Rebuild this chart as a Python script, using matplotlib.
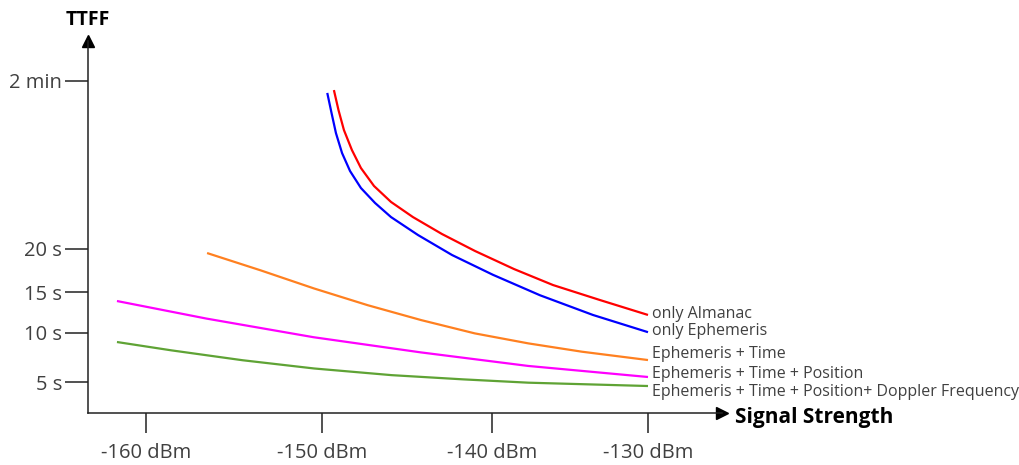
import numpy as np
import matplotlib
matplotlib.use("Agg")
import matplotlib.pyplot as plt

plt.rcParams["font.family"] = ["Open Sans", "DejaVu Sans"]

# signal strength (dBm) / time to first fix (s)
almanac_x = [-149.3, -149.03, -148.71, -148.24, -147.71, -146.94, -145.94, -144.65,
             -142.94, -141.0, -138.59, -136.09, -133.08, -130.0]
almanac_y = [114.6, 102.7, 90.8, 78.9, 68.2, 57.5, 48.0, 39.0,
             28.9, 19.77, 17.67, 15.81, 14.02, 12.2]

ephem_x = [-149.69, -149.44, -149.18, -148.82, -148.35, -147.71, -146.88, -145.94,
           -144.35, -142.35, -139.94, -136.92, -133.53, -130.0]
ephem_y = [112.9, 101.0, 89.0, 77.1, 66.4, 56.3, 47.4, 39.0,
           28.3, 19.3, 17.0, 14.6, 12.2, 10.1]

time_x = [-156.53, -153.49, -150.45, -147.31, -144.16, -141.01, -137.67, -134.23, -130.0]
time_y = [19.53, 17.52, 15.41, 13.39, 11.57, 9.96, 8.94, 8.09, 7.24]

pos_x = [-161.65, -156.57, -150.48, -144.18, -137.69, -130.0]
pos_y = [13.9, 11.76, 9.57, 8.02, 6.64, 5.51]

doppler_x = [-161.65, -158.56, -154.51, -150.45, -145.91, -141.71, -137.67, -130.0]
doppler_y = [9.08, 8.23, 7.22, 6.38, 5.70, 5.27, 4.93, 4.59]

x_ticks = [-160, -150, -140, -130]
x_ticklabels = ["-160 dBm", "-150 dBm", "-140 dBm", "-130 dBm"]
y_ticks = [5, 10, 15, 20, 120]
y_ticklabels = ["5 s", "10 s", "15 s", "20 s", "2 min"]

series = [
    (almanac_x, almanac_y, "#ff0000", "only Almanac", 1),
    (ephem_x, ephem_y, "#0000ff", "only Ephemeris", 1),
    (time_x, time_y, "#ff8020", "Ephemeris + Time", 6),
    (pos_x, pos_y, "#ff00ff", "Ephemeris + Time + Position", 3),
    (doppler_x, doppler_y, "#5fa335", "Ephemeris + Time + Position+ Doppler Frequency", -6),
]

# the drawing is schematic: axes are not linear, so warp them piecewise
X_KNOTS = np.array([-170, -160, -150, -140, -130, -120])
X_PIX = np.array([-30, 146, 322, 492, 648, 804])
Y_KNOTS = np.array([0, 5, 10, 15, 20, 120, 200])
Y_PIX = -np.array([431, 382, 333, 292, 249, 81, -53])


def fwd_x(v):
    return np.interp(v, X_KNOTS, X_PIX)


def inv_x(p):
    return np.interp(p, X_PIX, X_KNOTS)


def fwd_y(v):
    return np.interp(v, Y_KNOTS, Y_PIX)


def inv_y(p):
    return np.interp(p, Y_PIX, Y_KNOTS)


W, H = 1019, 465
fig = plt.figure(figsize=(W / 100, H / 100), dpi=100)
left, right, top, bottom = 88, 722, 41, 413
ax = fig.add_axes([left / W, (H - bottom) / H, (right - left) / W, (bottom - top) / H])
ax.set_xscale("function", functions=(fwd_x, inv_x))
ax.set_yscale("function", functions=(fwd_y, inv_y))
ax.set_xlim(inv_x(left), inv_x(right))
ax.set_ylim(inv_y(-bottom), inv_y(-top))

for xs, ys, color, label, dy in series:
    ax.plot(xs, ys, color=color, lw=1.6, solid_capstyle="butt")
    ax.annotate(label, (xs[-1], ys[-1]), xytext=(4, dy), textcoords="offset pixels",
                ha="left", va="center", fontsize=11.5, color="#404040")

for s in ["top", "right"]:
    ax.spines[s].set_visible(False)
for s in ["left", "bottom"]:
    ax.spines[s].set_color("#222222")
    ax.spines[s].set_linewidth(1.1)

ax.plot(1, 0, marker=">", ms=9, color="black", transform=ax.transAxes, clip_on=False)
ax.plot(0, 1, marker="^", ms=9, color="black", transform=ax.transAxes, clip_on=False)

ax.set_xticks(x_ticks)
ax.set_xticklabels(x_ticklabels)
ax.set_yticks(y_ticks)
ax.set_yticklabels(y_ticklabels)
ax.minorticks_off()
ax.tick_params(axis="x", length=14.5, width=1.1, color="#222222", pad=7,
               labelsize=14.5, labelcolor="#404040")
ax.tick_params(axis="y", length=16.5, width=1.1, color="#222222", pad=2,
               labelsize=14.5, labelcolor="#404040")

fig.text(88 / W, 1 - 20 / H, "TTFF", ha="center", va="center",
         fontsize=14, fontweight="bold", color="black")
fig.text(735 / W, 1 - 417 / H, "Signal Strength", ha="left", va="center",
         fontsize=15, fontweight="bold", color="black")

fig.savefig("out.png", dpi=100)
